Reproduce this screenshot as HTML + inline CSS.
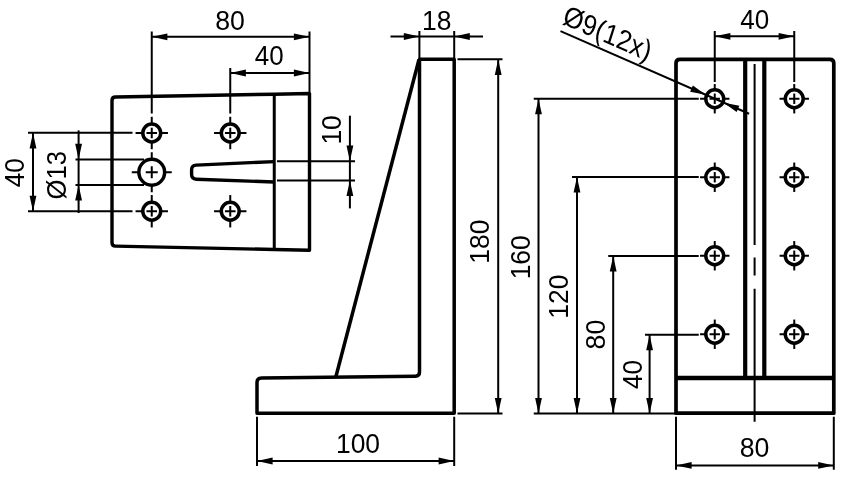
<!DOCTYPE html>
<html><head><meta charset="utf-8"><title>Bracket drawing</title>
<style>
html,body{margin:0;padding:0;background:#fff;}
body{width:853px;height:477px;overflow:hidden;}
svg{display:block;will-change:transform;}
text{font-family:"Liberation Sans",sans-serif;fill:#000;}
</style></head><body>
<svg width="853" height="477" viewBox="0 0 853 477">
<rect x="0" y="0" width="853" height="477" fill="#fff"/>
<path d="M 309.5 93.5 L 274.25 94.2 L 115.5 96.95 Q 112 97 112 100.5 L 112 242.5 Q 112 246 115.5 246.1 L 274.25 249.5 L 309.5 250.3 Z" fill="none" stroke="#000" stroke-width="3.4" stroke-linejoin="round" stroke-linecap="butt" />
<path d="M 274.25 94.2 L 274.25 249.5" fill="none" stroke="#000" stroke-width="3.0" stroke-linejoin="round" stroke-linecap="butt" />
<path d="M 274.25 161.6 L 196.2 165.1 Q 191.6 165.4 191.6 169.8 L 191.6 174.6 Q 191.6 179.0 196.2 179.2 L 274.25 182.0" fill="none" stroke="#000" stroke-width="3.4" stroke-linejoin="round" stroke-linecap="butt" />
<circle cx="151.75" cy="133" r="8.95" fill="none" stroke="#000" stroke-width="3.5"/>
<line x1="146.45" y1="133" x2="157.05" y2="133" stroke="#000" stroke-width="2.0" />
<line x1="151.75" y1="127.7" x2="151.75" y2="138.3" stroke="#000" stroke-width="2.0" />
<line x1="135.55" y1="133" x2="143.3" y2="133" stroke="#000" stroke-width="2.0" />
<line x1="160.2" y1="133" x2="167.95" y2="133" stroke="#000" stroke-width="2.0" />
<line x1="151.75" y1="116.8" x2="151.75" y2="124.55" stroke="#000" stroke-width="2.0" />
<line x1="151.75" y1="141.45" x2="151.75" y2="149.2" stroke="#000" stroke-width="2.0" />
<circle cx="230.25" cy="133" r="8.95" fill="none" stroke="#000" stroke-width="3.5"/>
<line x1="224.95" y1="133" x2="235.55" y2="133" stroke="#000" stroke-width="2.0" />
<line x1="230.25" y1="127.7" x2="230.25" y2="138.3" stroke="#000" stroke-width="2.0" />
<line x1="214.05" y1="133" x2="221.8" y2="133" stroke="#000" stroke-width="2.0" />
<line x1="238.7" y1="133" x2="246.45" y2="133" stroke="#000" stroke-width="2.0" />
<line x1="230.25" y1="116.8" x2="230.25" y2="124.55" stroke="#000" stroke-width="2.0" />
<line x1="230.25" y1="141.45" x2="230.25" y2="149.2" stroke="#000" stroke-width="2.0" />
<circle cx="151.75" cy="211.25" r="8.95" fill="none" stroke="#000" stroke-width="3.5"/>
<line x1="146.45" y1="211.25" x2="157.05" y2="211.25" stroke="#000" stroke-width="2.0" />
<line x1="151.75" y1="205.95" x2="151.75" y2="216.55" stroke="#000" stroke-width="2.0" />
<line x1="135.55" y1="211.25" x2="143.3" y2="211.25" stroke="#000" stroke-width="2.0" />
<line x1="160.2" y1="211.25" x2="167.95" y2="211.25" stroke="#000" stroke-width="2.0" />
<line x1="151.75" y1="195.05" x2="151.75" y2="202.8" stroke="#000" stroke-width="2.0" />
<line x1="151.75" y1="219.7" x2="151.75" y2="227.45" stroke="#000" stroke-width="2.0" />
<circle cx="230.25" cy="211.25" r="8.95" fill="none" stroke="#000" stroke-width="3.5"/>
<line x1="224.95" y1="211.25" x2="235.55" y2="211.25" stroke="#000" stroke-width="2.0" />
<line x1="230.25" y1="205.95" x2="230.25" y2="216.55" stroke="#000" stroke-width="2.0" />
<line x1="214.05" y1="211.25" x2="221.8" y2="211.25" stroke="#000" stroke-width="2.0" />
<line x1="238.7" y1="211.25" x2="246.45" y2="211.25" stroke="#000" stroke-width="2.0" />
<line x1="230.25" y1="195.05" x2="230.25" y2="202.8" stroke="#000" stroke-width="2.0" />
<line x1="230.25" y1="219.7" x2="230.25" y2="227.45" stroke="#000" stroke-width="2.0" />
<circle cx="151.75" cy="172.25" r="12.9" fill="none" stroke="#000" stroke-width="3.5"/>
<line x1="145.75" y1="172.25" x2="157.75" y2="172.25" stroke="#000" stroke-width="2.0" />
<line x1="151.75" y1="166.25" x2="151.75" y2="178.25" stroke="#000" stroke-width="2.0" />
<line x1="131.75" y1="172.25" x2="139.35" y2="172.25" stroke="#000" stroke-width="2.0" />
<line x1="164.15" y1="172.25" x2="171.75" y2="172.25" stroke="#000" stroke-width="2.0" />
<line x1="151.75" y1="152.25" x2="151.75" y2="159.85" stroke="#000" stroke-width="2.0" />
<line x1="151.75" y1="184.65" x2="151.75" y2="192.25" stroke="#000" stroke-width="2.0" />
<line x1="151.75" y1="31.5" x2="151.75" y2="113.5" stroke="#000" stroke-width="2.0" />
<line x1="309.5" y1="31.5" x2="309.5" y2="92" stroke="#000" stroke-width="2.0" />
<line x1="151.75" y1="36.8" x2="309.5" y2="36.8" stroke="#000" stroke-width="2.0" />
<polygon points="151.75,36.80 167.35,33.40 167.35,40.20" fill="#000"/>
<polygon points="309.50,36.80 293.90,40.20 293.90,33.40" fill="#000"/>
<text transform="translate(230,20.2) rotate(0) scale(0.985,1)" x="0" y="9.30" font-size="27.1" text-anchor="middle" >80</text>
<line x1="230.25" y1="68" x2="230.25" y2="113.5" stroke="#000" stroke-width="2.0" />
<line x1="230.25" y1="73" x2="309.5" y2="73" stroke="#000" stroke-width="2.0" />
<polygon points="230.25,73.00 245.85,69.60 245.85,76.40" fill="#000"/>
<polygon points="309.50,73.00 293.90,76.40 293.90,69.60" fill="#000"/>
<text transform="translate(269.3,55.2) rotate(0) scale(0.96,1)" x="0" y="9.30" font-size="27.1" text-anchor="middle" >40</text>
<line x1="28" y1="132.8" x2="132.5" y2="132.8" stroke="#000" stroke-width="2.0" />
<line x1="28" y1="211.3" x2="132.5" y2="211.3" stroke="#000" stroke-width="2.0" />
<line x1="33" y1="132.8" x2="33" y2="211.3" stroke="#000" stroke-width="2.0" />
<polygon points="33.00,132.80 36.40,148.40 29.60,148.40" fill="#000"/>
<polygon points="33.00,211.30 29.60,195.70 36.40,195.70" fill="#000"/>
<text transform="translate(14.5,172.7) rotate(-90) scale(0.96,1)" x="0" y="9.30" font-size="27.1" text-anchor="middle" >40</text>
<line x1="75.5" y1="159.4" x2="144" y2="159.4" stroke="#000" stroke-width="2.0" />
<line x1="75.5" y1="184.9" x2="144" y2="184.9" stroke="#000" stroke-width="2.0" />
<line x1="78.6" y1="130.4" x2="78.6" y2="213" stroke="#000" stroke-width="2.0" />
<polygon points="78.60,159.40 75.20,143.80 82.00,143.80" fill="#000"/>
<polygon points="78.60,184.90 82.00,200.50 75.20,200.50" fill="#000"/>
<text transform="translate(57,175.3) rotate(-90) scale(0.945,1)" x="0" y="9.30" font-size="27.1" text-anchor="middle" >Ø13</text>
<line x1="277" y1="161.2" x2="355" y2="161.2" stroke="#000" stroke-width="2.0" />
<line x1="277" y1="180.4" x2="355" y2="180.4" stroke="#000" stroke-width="2.0" />
<line x1="349.9" y1="115.7" x2="349.9" y2="208.4" stroke="#000" stroke-width="2.0" />
<polygon points="349.90,161.20 346.50,145.60 353.30,145.60" fill="#000"/>
<polygon points="349.90,180.40 353.30,196.00 346.50,196.00" fill="#000"/>
<text transform="translate(332.0,129.9) rotate(-90) scale(0.975,1)" x="0" y="9.30" font-size="27.1" text-anchor="middle" >10</text>
<path d="M 257 413.2 L 257 382.6 Q 257 378.2 261.4 378.1 L 415.5 376.2 Q 419.5 376.1 419.5 372.1 L 419.5 59.3 L 454.2 59.3 L 454.2 413.2 Z" fill="none" stroke="#000" stroke-width="3.5" stroke-linejoin="round" stroke-linecap="butt" />
<path d="M 419 59.5 L 335.75 377.2" fill="none" stroke="#000" stroke-width="3.5" stroke-linejoin="round" stroke-linecap="butt" />
<line x1="419.4" y1="31" x2="419.4" y2="58" stroke="#000" stroke-width="2.0" />
<line x1="454.2" y1="31" x2="454.2" y2="58" stroke="#000" stroke-width="2.0" />
<line x1="390.5" y1="36.5" x2="483" y2="36.5" stroke="#000" stroke-width="2.0" />
<polygon points="419.40,36.50 403.80,39.90 403.80,33.10" fill="#000"/>
<polygon points="454.20,36.50 469.80,33.10 469.80,39.90" fill="#000"/>
<text transform="translate(436.7,20.2) rotate(0) scale(0.975,1)" x="0" y="9.30" font-size="27.1" text-anchor="middle" >18</text>
<line x1="457.5" y1="59.3" x2="502.5" y2="59.3" stroke="#000" stroke-width="2.0" />
<line x1="457.5" y1="413.5" x2="502.5" y2="413.5" stroke="#000" stroke-width="2.0" />
<line x1="498.2" y1="59.3" x2="498.2" y2="413.5" stroke="#000" stroke-width="2.0" />
<polygon points="498.20,59.30 501.60,74.90 494.80,74.90" fill="#000"/>
<polygon points="498.20,413.50 494.80,397.90 501.60,397.90" fill="#000"/>
<text transform="translate(480.1,241.6) rotate(-90) scale(0.975,1)" x="0" y="9.30" font-size="27.1" text-anchor="middle" >180</text>
<line x1="257" y1="416.75" x2="257" y2="466" stroke="#000" stroke-width="2.0" />
<line x1="454.2" y1="416.75" x2="454.2" y2="466" stroke="#000" stroke-width="2.0" />
<line x1="257" y1="461" x2="454.2" y2="461" stroke="#000" stroke-width="2.0" />
<polygon points="257.00,461.00 272.60,457.60 272.60,464.40" fill="#000"/>
<polygon points="454.20,461.00 438.60,464.40 438.60,457.60" fill="#000"/>
<text transform="translate(358,443.4) rotate(0) scale(0.975,1)" x="0" y="9.30" font-size="27.1" text-anchor="middle" >100</text>
<path d="M 676 413.2 L 676 63.3 Q 676 59.3 680 59.3 L 829.8 59.3 Q 833.8 59.3 833.8 63.3 L 833.8 413.2 Z" fill="none" stroke="#000" stroke-width="3.7" stroke-linejoin="round" stroke-linecap="butt" />
<path d="M 676 378 L 833.8 378" fill="none" stroke="#000" stroke-width="4.4" stroke-linejoin="round" stroke-linecap="butt" />
<path d="M 745.2 59.3 L 745.2 378" fill="none" stroke="#000" stroke-width="4.2" stroke-linejoin="round" stroke-linecap="butt" />
<path d="M 764.3 59.3 L 764.3 378" fill="none" stroke="#000" stroke-width="4.2" stroke-linejoin="round" stroke-linecap="butt" />
<line x1="754.6" y1="64" x2="754.6" y2="245" stroke="#000" stroke-width="2.0" />
<line x1="754.6" y1="257.5" x2="754.6" y2="275.5" stroke="#000" stroke-width="2.0" />
<line x1="754.6" y1="288.75" x2="754.6" y2="421.75" stroke="#000" stroke-width="2.0" />
<circle cx="714.75" cy="98.75" r="8.95" fill="none" stroke="#000" stroke-width="3.5"/>
<line x1="709.55" y1="98.75" x2="719.95" y2="98.75" stroke="#000" stroke-width="2.0" />
<line x1="714.75" y1="93.55" x2="714.75" y2="103.95" stroke="#000" stroke-width="2.0" />
<line x1="700.05" y1="98.75" x2="706.3" y2="98.75" stroke="#000" stroke-width="2.0" />
<line x1="723.2" y1="98.75" x2="729.45" y2="98.75" stroke="#000" stroke-width="2.0" />
<line x1="714.75" y1="84.05" x2="714.75" y2="90.3" stroke="#000" stroke-width="2.0" />
<line x1="714.75" y1="107.2" x2="714.75" y2="113.45" stroke="#000" stroke-width="2.0" />
<circle cx="794.25" cy="98.75" r="8.95" fill="none" stroke="#000" stroke-width="3.5"/>
<line x1="789.05" y1="98.75" x2="799.45" y2="98.75" stroke="#000" stroke-width="2.0" />
<line x1="794.25" y1="93.55" x2="794.25" y2="103.95" stroke="#000" stroke-width="2.0" />
<line x1="779.55" y1="98.75" x2="785.8" y2="98.75" stroke="#000" stroke-width="2.0" />
<line x1="802.7" y1="98.75" x2="808.95" y2="98.75" stroke="#000" stroke-width="2.0" />
<line x1="794.25" y1="84.05" x2="794.25" y2="90.3" stroke="#000" stroke-width="2.0" />
<line x1="794.25" y1="107.2" x2="794.25" y2="113.45" stroke="#000" stroke-width="2.0" />
<circle cx="714.75" cy="177.25" r="8.95" fill="none" stroke="#000" stroke-width="3.5"/>
<line x1="709.55" y1="177.25" x2="719.95" y2="177.25" stroke="#000" stroke-width="2.0" />
<line x1="714.75" y1="172.05" x2="714.75" y2="182.45" stroke="#000" stroke-width="2.0" />
<line x1="700.05" y1="177.25" x2="706.3" y2="177.25" stroke="#000" stroke-width="2.0" />
<line x1="723.2" y1="177.25" x2="729.45" y2="177.25" stroke="#000" stroke-width="2.0" />
<line x1="714.75" y1="162.55" x2="714.75" y2="168.8" stroke="#000" stroke-width="2.0" />
<line x1="714.75" y1="185.7" x2="714.75" y2="191.95" stroke="#000" stroke-width="2.0" />
<circle cx="794.25" cy="177.25" r="8.95" fill="none" stroke="#000" stroke-width="3.5"/>
<line x1="789.05" y1="177.25" x2="799.45" y2="177.25" stroke="#000" stroke-width="2.0" />
<line x1="794.25" y1="172.05" x2="794.25" y2="182.45" stroke="#000" stroke-width="2.0" />
<line x1="779.55" y1="177.25" x2="785.8" y2="177.25" stroke="#000" stroke-width="2.0" />
<line x1="802.7" y1="177.25" x2="808.95" y2="177.25" stroke="#000" stroke-width="2.0" />
<line x1="794.25" y1="162.55" x2="794.25" y2="168.8" stroke="#000" stroke-width="2.0" />
<line x1="794.25" y1="185.7" x2="794.25" y2="191.95" stroke="#000" stroke-width="2.0" />
<circle cx="714.75" cy="255.75" r="8.95" fill="none" stroke="#000" stroke-width="3.5"/>
<line x1="709.55" y1="255.75" x2="719.95" y2="255.75" stroke="#000" stroke-width="2.0" />
<line x1="714.75" y1="250.55" x2="714.75" y2="260.95" stroke="#000" stroke-width="2.0" />
<line x1="700.05" y1="255.75" x2="706.3" y2="255.75" stroke="#000" stroke-width="2.0" />
<line x1="723.2" y1="255.75" x2="729.45" y2="255.75" stroke="#000" stroke-width="2.0" />
<line x1="714.75" y1="241.05" x2="714.75" y2="247.3" stroke="#000" stroke-width="2.0" />
<line x1="714.75" y1="264.2" x2="714.75" y2="270.45" stroke="#000" stroke-width="2.0" />
<circle cx="794.25" cy="255.75" r="8.95" fill="none" stroke="#000" stroke-width="3.5"/>
<line x1="789.05" y1="255.75" x2="799.45" y2="255.75" stroke="#000" stroke-width="2.0" />
<line x1="794.25" y1="250.55" x2="794.25" y2="260.95" stroke="#000" stroke-width="2.0" />
<line x1="779.55" y1="255.75" x2="785.8" y2="255.75" stroke="#000" stroke-width="2.0" />
<line x1="802.7" y1="255.75" x2="808.95" y2="255.75" stroke="#000" stroke-width="2.0" />
<line x1="794.25" y1="241.05" x2="794.25" y2="247.3" stroke="#000" stroke-width="2.0" />
<line x1="794.25" y1="264.2" x2="794.25" y2="270.45" stroke="#000" stroke-width="2.0" />
<circle cx="714.75" cy="334.25" r="8.95" fill="none" stroke="#000" stroke-width="3.5"/>
<line x1="709.55" y1="334.25" x2="719.95" y2="334.25" stroke="#000" stroke-width="2.0" />
<line x1="714.75" y1="329.05" x2="714.75" y2="339.45" stroke="#000" stroke-width="2.0" />
<line x1="700.05" y1="334.25" x2="706.3" y2="334.25" stroke="#000" stroke-width="2.0" />
<line x1="723.2" y1="334.25" x2="729.45" y2="334.25" stroke="#000" stroke-width="2.0" />
<line x1="714.75" y1="319.55" x2="714.75" y2="325.8" stroke="#000" stroke-width="2.0" />
<line x1="714.75" y1="342.7" x2="714.75" y2="348.95" stroke="#000" stroke-width="2.0" />
<circle cx="794.25" cy="334.25" r="8.95" fill="none" stroke="#000" stroke-width="3.5"/>
<line x1="789.05" y1="334.25" x2="799.45" y2="334.25" stroke="#000" stroke-width="2.0" />
<line x1="794.25" y1="329.05" x2="794.25" y2="339.45" stroke="#000" stroke-width="2.0" />
<line x1="779.55" y1="334.25" x2="785.8" y2="334.25" stroke="#000" stroke-width="2.0" />
<line x1="802.7" y1="334.25" x2="808.95" y2="334.25" stroke="#000" stroke-width="2.0" />
<line x1="794.25" y1="319.55" x2="794.25" y2="325.8" stroke="#000" stroke-width="2.0" />
<line x1="794.25" y1="342.7" x2="794.25" y2="348.95" stroke="#000" stroke-width="2.0" />
<line x1="714.75" y1="31" x2="714.75" y2="82" stroke="#000" stroke-width="2.0" />
<line x1="794.25" y1="31" x2="794.25" y2="82" stroke="#000" stroke-width="2.0" />
<line x1="714.75" y1="36.3" x2="794.25" y2="36.3" stroke="#000" stroke-width="2.0" />
<polygon points="714.75,36.30 730.35,32.90 730.35,39.70" fill="#000"/>
<polygon points="794.25,36.30 778.65,39.70 778.65,32.90" fill="#000"/>
<text transform="translate(754.75,20.0) rotate(0) scale(0.96,1)" x="0" y="9.30" font-size="27.1" text-anchor="middle" >40</text>
<line x1="676" y1="416.75" x2="676" y2="469.75" stroke="#000" stroke-width="2.0" />
<line x1="833.8" y1="416.75" x2="833.8" y2="469.75" stroke="#000" stroke-width="2.0" />
<line x1="676" y1="465.4" x2="833.8" y2="465.4" stroke="#000" stroke-width="2.0" />
<polygon points="676.00,465.40 691.60,462.00 691.60,468.80" fill="#000"/>
<polygon points="833.80,465.40 818.20,468.80 818.20,462.00" fill="#000"/>
<text transform="translate(754.5,447.6) rotate(0) scale(0.985,1)" x="0" y="9.30" font-size="27.1" text-anchor="middle" >80</text>
<line x1="533.75" y1="413.5" x2="675" y2="413.5" stroke="#000" stroke-width="2.0" />
<line x1="533.75" y1="98.75" x2="698.75" y2="98.75" stroke="#000" stroke-width="2.0" />
<line x1="538.5" y1="98.75" x2="538.5" y2="413.5" stroke="#000" stroke-width="2.0" />
<polygon points="538.50,98.75 541.90,114.35 535.10,114.35" fill="#000"/>
<polygon points="538.50,413.50 535.10,397.90 541.90,397.90" fill="#000"/>
<text transform="translate(520.4,257.3) rotate(-90) scale(0.975,1)" x="0" y="9.30" font-size="27.1" text-anchor="middle" >160</text>
<line x1="572" y1="176.9" x2="698.75" y2="176.9" stroke="#000" stroke-width="2.0" />
<line x1="577" y1="176.9" x2="577" y2="413.5" stroke="#000" stroke-width="2.0" />
<polygon points="577.00,176.90 580.40,192.50 573.60,192.50" fill="#000"/>
<polygon points="577.00,413.50 573.60,397.90 580.40,397.90" fill="#000"/>
<text transform="translate(558.9,296.6) rotate(-90) scale(0.975,1)" x="0" y="9.30" font-size="27.1" text-anchor="middle" >120</text>
<line x1="608.25" y1="256" x2="698.75" y2="256" stroke="#000" stroke-width="2.0" />
<line x1="613.2" y1="256" x2="613.2" y2="413.5" stroke="#000" stroke-width="2.0" />
<polygon points="613.20,256.00 616.60,271.60 609.80,271.60" fill="#000"/>
<polygon points="613.20,413.50 609.80,397.90 616.60,397.90" fill="#000"/>
<text transform="translate(595.2,334.6) rotate(-90) scale(0.985,1)" x="0" y="9.30" font-size="27.1" text-anchor="middle" >80</text>
<line x1="645" y1="334.7" x2="698.75" y2="334.7" stroke="#000" stroke-width="2.0" />
<line x1="649.6" y1="334.7" x2="649.6" y2="413.5" stroke="#000" stroke-width="2.0" />
<polygon points="649.60,334.70 653.00,350.30 646.20,350.30" fill="#000"/>
<polygon points="649.60,413.50 646.20,397.90 653.00,397.90" fill="#000"/>
<text transform="translate(632.25,374.6) rotate(-90) scale(0.96,1)" x="0" y="9.30" font-size="27.1" text-anchor="middle" >40</text>
<line x1="560.5" y1="31.2" x2="749.1" y2="113.79" stroke="#000" stroke-width="2.0" />
<polygon points="705.77,94.82 690.12,91.68 692.85,85.45" fill="#000"/>
<polygon points="723.73,102.68 739.38,105.82 736.65,112.05" fill="#000"/>
<text transform="translate(561.5,23.5) rotate(23.65) skewX(6) scale(0.965,1.05)" x="0" y="0" font-size="27.1" text-anchor="start">Ø9(12x)</text>
</svg>
</body></html>
